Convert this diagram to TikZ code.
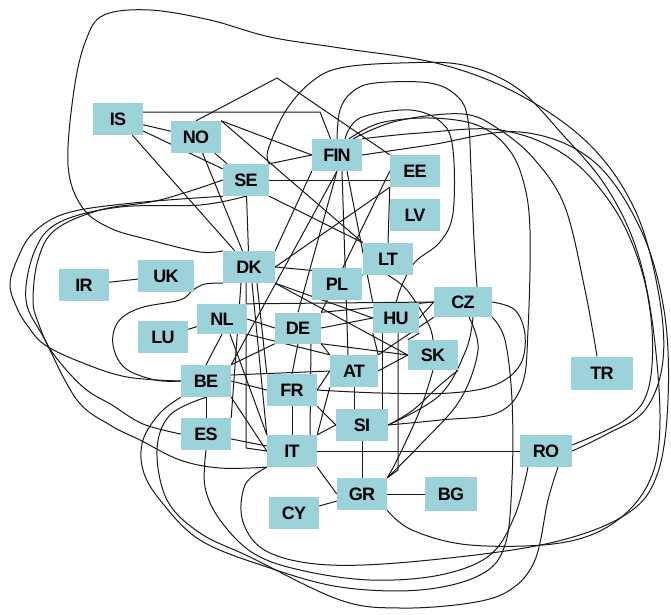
\documentclass[tikz,border=0pt]{standalone}
\usepackage{fontspec}
\newfontfamily\lab[LetterSpace=-5]{Liberation Sans}
\usetikzlibrary{backgrounds}
\definecolor{boxc}{RGB}{156,210,217}
\tikzset{
  box/.style={fill=boxc, minimum width=50pt, minimum height=32pt, inner sep=0pt,
              font=\lab\fontsize{18}{18}\selectfont\bfseries},
  edge/.style={line width=1pt, draw=black!90},
}
\begin{document}
\begin{tikzpicture}[x=1pt,y=-1pt]
\useasboundingbox (0,0) rectangle (671,614);
% nodes
\node[box] (IS) at (118,119) {IS};
\node[box] (NO) at (196,137) {NO};
\node[box] (FIN) at (337,155) {FIN};
\node[box] (EE) at (415,171) {EE};
\node[box, minimum width=46pt] (SE) at (246,180) {SE};
\node[box] (LV) at (415,215) {LV};
\node[box] (LT) at (388,259) {LT};
\node[box, minimum width=52pt] (DK) at (249,267) {DK};
\node[box] (IR) at (84,285) {IR};
\node[box, minimum width=56pt] (UK) at (166,276) {UK};
\node[box] (PL) at (337,284) {PL};
\node[box, minimum width=58pt, minimum height=30pt] (CZ) at (463,302) {CZ};
\node[box, minimum height=30pt] (NL) at (222,319) {NL};
\node[box, minimum width=46pt, minimum height=31pt] (DE) at (298,328) {DE};
\node[box, minimum width=46pt, minimum height=30pt] (HU) at (396,318) {HU};
\node[box] (LU) at (163,337) {LU};
\node[box, minimum height=30pt] (SK) at (433,355) {SK};
\node[box, minimum width=48pt] (AT) at (354,371) {AT};
\node[box] (BE) at (206,381) {BE};
\node[box] (FR) at (292,390) {FR};
\node[box, minimum width=62pt, minimum height=33pt] (TR) at (602,373) {TR};
\node[box, minimum width=52pt] (SI) at (362,425) {SI};
\node[box] (ES) at (206,434) {ES};
\node[box] (IT) at (292,451) {IT};
\node[box, minimum width=52pt] (RO) at (546,451) {RO};
\node[box] (GR) at (362,494) {GR};
\node[box, minimum width=52pt, minimum height=34pt] (BG) at (451,494) {BG};
\node[box] (CY) at (294,513) {CY};

\begin{pgfonlayer}{background}
\fill[white] (0,0) rectangle (671,614);
% straight connectors
\draw[edge] (IS) -- (NO);
\draw[edge] (IS) -- (SE);
\draw[edge] (IS) -- (DK);
\draw[edge] ([yshift=7pt]IS.east) -- (320,112) -- (FIN);
\draw[edge] (NO) -- (SE);
\draw[edge] (NO) -- (DK);
\draw[edge] (NO.north east) -- (FIN.west);
\draw[edge] (NO.north east) -- (LT.north west);
\draw[edge] (NO.north) -- (277,78) -- (EE.north west);
\draw[edge] (SE) -- (DK);
\draw[edge] (SE.east) -- (SE.east -| EE.west);
\draw[edge] (SE.north east) -- (FIN.west);
\draw[edge] (SE.south east) -- (LT.north west);
\draw[edge] (FIN.south west) -- (DK.north east);
\draw[edge] (FIN.south) -- (BE.north east);
\draw[edge] (FIN.south) -- (DE.north);
\draw[edge] ([xshift=5pt]FIN.south) -- ([xshift=-6pt]AT.north);
\draw[edge] ([xshift=10pt]FIN.south) -- (HU.north west);
\draw[edge] (EE.south west) -- (DK.east);
\draw[edge] (EE.south west) -- (LT.north);
\draw[edge] (EE.west) -- (DE.north east);
\draw[edge] (DK.east) -- (LT.south west);
\draw[edge] (DK.south east) -- (HU.west);
\draw[edge] (DK.south east) -- (SK.west);
\draw[edge] ([xshift=3pt]DK.south) -- (IT.north west);
\draw[edge] ([xshift=-3pt]DK.south) -- (246,448) -- (IT.west);
\draw[edge] ([xshift=8pt]DK.south) -- (FR.north west);
\draw[edge] ([xshift=-8pt]DK.south) -- (ES.north east);
\draw[edge] (IR) -- (UK);
\draw[edge] (LU) -- (NL);
\draw[edge] (NL.east) -- (DE.west);
\draw[edge] (NL.south) -- (BE.north);
\draw[edge] ([xshift=8pt]NL.south) -- (IT.north west);
\draw[edge] (NL.south east) -- (AT.north west);
\draw[edge] (NL.north east) -- (CZ.west);
\draw[edge] (DE.south) -- (FR.north);
\draw[edge] (FR) -- (IT);
\draw[edge] (DE.east) -- (HU.west);
\draw[edge] (DE.south east) -- (AT.north west);
\draw[edge] (DE.north east) -- (CZ.west);
\draw[edge] (DE.south east) -- (SK.west);
\draw[edge] ([xshift=13pt]DE.south) -- ([xshift=18pt]IT.north);
\draw[edge] (BE.east) -- (FR.west);
\draw[edge] ([yshift=6pt]BE.east) -- (AT.west);
\draw[edge] (BE.north east) -- (DE.south west);
\draw[edge] (BE.south east) -- (IT.west);
\draw[edge] (BE) -- (ES);
\draw[edge] (ES) -- (IT);
\draw[edge] (IT.east) -- (RO.west);
\draw[edge] (IT.south east) -- (GR.west);
\draw[edge] (IT.north east) -- (SI.west);
\draw[edge] (IT.north east) -- (AT.south west);
\draw[edge] (FR.east) -- (AT.west);
\draw[edge] (FR.south east) -- (SI.west);
\draw[edge] (AT.south) -- ([xshift=-8pt]SI.north);
\draw[edge] (AT.north east) -- (HU.south west);
\draw[edge] (AT.east) -- (SK.west);
\draw[edge] (AT.north east) -- (CZ.south west);
\draw[edge] (HU.east) -- (CZ.west);
\draw[edge] (HU.south east) -- (SK.north west);
\draw[edge] ([xshift=-14pt]HU.south) -- ([xshift=20pt]SI.north);
\draw[edge] ([xshift=2pt]HU.south) -- (398,470) -- (GR.north east);
\draw[edge] (SI.south) -- (GR.north);
\draw[edge] (GR) -- (BG);
\draw[edge] (GR) -- (CY);
% curved connectors
\draw[edge] plot[smooth,tension=0.6] coordinates {(SK.south) (420,410) (398,458) (GR.north east)};
\draw[edge] plot[smooth,tension=0.6] coordinates {([xshift=6pt]CZ.south) (478,350) (460,400) (420,445) (GR.north east)};
\draw[edge] plot[smooth,tension=0.6] coordinates {(SK.south east) (440,385) (413,410) (SI.east)};
\draw[edge] plot[smooth,tension=0.6] coordinates {([xshift=10pt]CZ.south) (466,350) (440,395) (SI.east)};
\draw[edge] plot[smooth,tension=0.6] coordinates {(LT.south) (407,290) (428,323) (SK.north)};
\draw[edge] plot[smooth,tension=0.6] coordinates {(CZ.east) (515,310) (525,335) (520,365) (495,385) (450,393) (380,393) (FR.east)};
% top loop DK -> RO
\draw[edge] plot[smooth,tension=0.6] coordinates {(DK.north west) (200,252) (150,240) (110,228) (82,207) (68,165) (74,90) (86,40) (104,15) (150,10) (210,20) (270,37) (340,48) (440,64) (520,95) (590,145) (635,210) (658,290) (663,360) (645,410) (605,435) (RO.east)};
% SE -> top -> right -> GR
\draw[edge] plot[smooth,tension=0.6] coordinates {(SE.north east) (268,150) (285,112) (310,83) (340,68) (400,63) (463,65) (517,88) (563,135) (605,185) (635,245) (652,320) (660,420) (650,480) (615,522) (560,543) (470,545) (412,530) (GR.south east)};
% FIN loops
\draw[edge] plot[smooth,tension=0.6] coordinates {(FIN.north) (340,110) (352,92) (375,83) (430,83) (458,97) (468,120) (471,170) (474,240) ([xshift=14pt]CZ.north)};
\draw[edge] plot[smooth,tension=0.6] coordinates {([xshift=8pt]FIN.north) (360,118) (410,110) (442,123) (453,150) (453,213) (440,242) (415,262) (402,285) (HU.north)};
\draw[edge] plot[smooth,tension=0.6] coordinates {([xshift=12pt]FIN.north) (380,123) (430,118) (477,125) (507,147) (523,180) (530,230) (528,330) (522,385) (497,413) (440,420) (SI.east)};
\draw[edge] plot[smooth,tension=0.6] coordinates {([xshift=16pt]FIN.north) (397,121) (463,114) (500,130) (535,160) (565,207) (585,290) ([xshift=-5pt]TR.north)};
\draw[edge] plot[smooth,tension=0.6] coordinates {(FIN.north east) (420,133) (500,130) (565,155) (612,205) (640,265) (652,330) (648,390) (625,420) ([yshift=6pt]RO.east)};
\draw[edge] plot[smooth,tension=0.6] coordinates {(FIN.east) (430,145) (520,132) (592,160) (640,228) (664,310) (668,400) (657,475) (625,515) (550,543) (430,560) (330,565) (268,552) (243,522) (245,485) (IT.south west)};
% left loops from SE
\draw[edge] plot[smooth,tension=0.6] coordinates {(SE.south west) (133,203) (67,213) (33,233) (17,260) (10,285) (17,308) (27,325) (45,345) (83,363) (127,377) (BE.west)};
\draw[edge] plot[smooth,tension=0.6] coordinates {(SE.west) (160,200) (100,210) (55,230) (38,260) (33,300) (38,322) (52,352) (83,387) (112,405) (143,424) (ES.west)};
\draw[edge] plot[smooth,tension=0.6] coordinates {(SE.south) (200,205) (120,207) (60,222) (35,250) (26,300) (45,340) (77,400) (110,425) (140,440) (180,460) (220,468) (IT.south west)};
% DK wave round LU to BE
\draw[edge] plot[smooth,tension=0.6] coordinates {(DK.south west) (205,284) (193,290) (180,300) (140,308) (118,322) (113,345) (125,368) (155,380) (BE.west)};
% bottom loops
\draw[edge] plot[smooth,tension=0.6] coordinates {(BE.south west) (160,413) (143,440) (143,470) (160,500) (200,540) (267,567) (340,587) (420,590) (480,575) (505,545) (512,480) (512,400) (505,340) (CZ.south east)};
\draw[edge] plot[smooth,tension=0.6] coordinates {(BE.south) (170,415) (157,450) (167,500) (200,533) (250,557) (340,600) (400,608) (470,603) (510,590) (535,560) (548,500) ([xshift=12pt]RO.south)};
\draw[edge] plot[smooth,tension=0.6] coordinates {(ES.south) (205,487) (220,520) (253,553) (300,570) (370,580) (440,575) (490,555) (515,515) ([xshift=-18pt]RO.south)};
\end{pgfonlayer}
\end{tikzpicture}
\end{document}
